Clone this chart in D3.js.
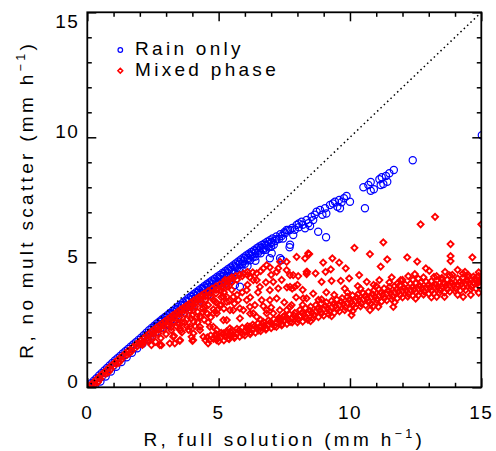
<!DOCTYPE html>
<html><head><meta charset="utf-8">
<script src="https://cdn.jsdelivr.net/npm/d3@7"></script>
<style>
html,body{margin:0;padding:0;background:#fff;}
svg{display:block;font-family:"Liberation Sans",Arial,Helvetica,sans-serif;}
</style></head><body>
<svg id="chart" width="496" height="451"></svg>
<script>
// Axis ranges and ticks
const xDomain = [0, 15];
const yDomain = [0, 15];
const majorTicks = [0, 5, 10, 15];
const minorTicks = [1, 2, 3, 4, 6, 7, 8, 9, 11, 12, 13, 14];
const xTickLabels = ["0", "5", "10", "15"];
const yTickLabels = ["0", "5", "10", "15"];
const xTitle = "R, full solution (mm h";
const yTitle = "R, no mult scatter (mm h";
const unitExponent = "\u22121";
const seriesNames = ["Rain only", "Mixed phase"];

// Rain-only retrievals: [full solution, no multiple scattering]
const rainOnly = [
[0.05,0.06],[0.15,0.16],[0.25,0.26],[0.35,0.36],[0.45,0.47],[0.55,0.57],[0.65,0.67],[0.75,0.77],[0.85,0.87],[0.95,0.97],
[1.05,1.07],[1.15,1.16],[1.25,1.25],[1.35,1.35],[1.45,1.44],[1.55,1.53],[1.65,1.62],[1.75,1.71],[1.85,1.8],[1.95,1.89],
[2.05,1.98],[2.15,2.08],[2.25,2.18],[2.35,2.28],[2.45,2.37],[2.55,2.46],[2.65,2.55],[2.75,2.63],[2.85,2.72],[2.95,2.8],
[3.05,2.88],[3.15,2.97],[3.25,3.05],[3.35,3.13],[3.45,3.22],[3.55,3.3],[3.65,3.39],[3.75,3.47],[3.85,3.56],[3.95,3.64],
[4.05,3.72],[4.15,3.8],[4.25,3.88],[4.35,3.96],[4.45,4.04],[4.55,4.12],[4.65,4.19],[4.75,4.27],[4.85,4.34],[4.95,4.42],
[5.05,4.49],[5.15,4.57],[5.25,4.64],[5.35,4.72],[5.45,4.79],[5.55,4.87],[5.65,4.95],[5.75,5.03],[5.85,5.11],[5.95,5.19],
[6.05,5.27],[6.15,5.34],[6.25,5.41],[6.35,5.48],[6.45,5.56],[6.55,5.63],[6.65,5.69],[6.75,5.75],[6.85,5.82],[6.95,5.88],
[7.05,5.95],[7.2,6.03],[7.35,6.12],[7.5,6.2],[7.65,6.29],[7.8,6.37],
[0.1,-0.04],[0.25,0.11],[0.4,0.27],[0.55,0.42],[0.7,0.57],[0.85,0.72],[1.0,0.87],[1.15,1.01],[1.3,1.15],[1.45,1.29],
[1.6,1.43],[1.75,1.56],[1.9,1.7],[2.05,1.83],[2.2,1.98],[2.35,2.13],[2.5,2.27],[2.65,2.4],[2.8,2.52],[2.95,2.65],
[3.1,2.77],[3.25,2.9],[3.4,3.03],[3.55,3.15],[3.7,3.28],[3.85,3.41],[4.0,3.53],[4.15,3.65],[4.3,3.77],[4.45,3.89],
[4.6,4.0],[4.75,4.12],[4.9,4.23],[5.05,4.34],[5.2,4.45],[5.35,4.56],[5.5,4.68],[5.65,4.8],[5.8,4.92],[5.95,5.04],
[6.1,5.16],[6.25,5.26],[6.4,5.37],[6.55,5.47],[6.7,5.56],[6.85,5.66],[7.0,5.76],[7.15,5.85],[7.3,5.93],
[0.3,0.02],[0.5,0.23],[0.7,0.43],[0.9,0.63],[1.1,0.82],[1.3,1.01],[1.5,1.2],[1.7,1.38],[1.9,1.56],[2.1,1.74],
[2.3,1.92],
[2.6,2.44],[2.8,2.61],[3.0,2.77],[3.2,2.93],[3.4,3.1],[3.6,3.27],[3.8,3.44],[4.0,3.61],[4.2,3.77],[4.4,3.93],
[4.6,4.08],[4.8,4.23],[5.0,4.38],[5.2,4.52],[5.4,4.67],[5.6,4.83],[5.8,4.99],[6.0,5.16],[6.2,5.3],[6.4,5.44],
[6.6,5.57],[6.8,5.69],[7.0,5.81],[7.2,5.92],[7.4,6.05],
[4.1,3.54],[4.3,3.7],[4.5,3.86],[4.7,4.01],[4.9,4.15],[5.1,4.29],[5.3,4.43],[5.5,4.6],[5.7,4.77],[5.9,4.93],
[6.1,5.08],[6.3,5.2],[6.5,5.37],[6.7,5.49],[6.9,5.6],
[2.4,2.04],[2.6,2.2],[2.8,2.37],[3.0,2.54],[3.2,2.71],[3.4,2.88],[3.6,3.04],[3.8,3.21],[4.0,3.38],[4.2,3.54],
[4.4,3.7],[4.6,3.86],[4.8,4.01],[5.0,4.15],[5.2,4.3],[5.4,4.45],[5.6,4.6],[5.8,4.77],[6.0,4.94],[6.2,5.08],
[6.4,5.23],[6.6,5.36],[6.8,5.5],[7.0,5.62],
[3.1,2.48],[3.4,2.73],[3.7,2.98],[4.0,3.23],[4.3,3.47],[4.6,3.7],[4.9,3.93],[5.2,4.15],[5.5,4.38],[5.8,4.62],
[6.1,4.85],[6.4,5.06],
[7.1,5.7],[7.45,5.95],[7.9,6.3],[8.05,6.4],[7.53,6.16],[7.72,6.29],[7.84,6.09],[7.97,6.49],[8.16,6.62],[8.29,6.36],
[8.35,6.69],[8.48,6.45],[8.54,6.82],[8.6,6.69],[8.73,7.02],[8.86,7.09],[9.05,7.16],[9.24,7.29],[9.43,7.42],[9.59,7.49],
[9.62,7.16],[9.77,7.56],[9.87,7.65],[10.0,7.42],[9.35,7.35],[9.52,7.22],[9.68,7.4],[9.1,6.95],[8.95,6.9],[8.66,6.9],
[8.42,6.56],[8.2,6.5],[8.05,6.55],
[10.51,8.0],[10.7,8.09],[10.79,8.21],[10.79,7.86],[10.91,7.92],[11.12,8.32],[11.17,8.09],[11.21,8.4],[11.27,8.13],[11.37,8.45],
[11.42,8.22],[11.5,8.56],[11.67,8.69],[12.39,9.08],[15.02,10.08],
[10.57,7.16],[8.79,6.22],[9.09,6.0],[7.72,5.7],[7.34,5.16],[7.02,5.36],[6.95,5.16],[7.4,5.09],[5.81,4.02],[5.62,4.09],
[7.59,6.29],[7.7,5.6]
];

// Mixed-phase retrievals: [full solution, no multiple scattering]
const mixedPhase = [
[0.05,0.03],[0.15,0.12],[0.25,0.22],[0.35,0.32],[0.45,0.42],[0.55,0.52],[0.65,0.61],[0.75,0.71],[0.85,0.81],[0.95,0.9],
[1.05,1.0],[1.15,1.09],[1.25,1.18],[1.35,1.27],[1.45,1.36],[1.55,1.45],[1.65,1.53],[1.75,1.62],[1.85,1.71],[1.95,1.8],
[2.05,1.88],[2.15,1.97],[2.25,2.06],[2.35,2.15],[2.45,2.24],[2.55,2.32],[2.65,2.4],[2.75,2.48],[2.85,2.56],[2.95,2.64],
[3.05,2.72],[3.15,2.8],[3.25,2.88],[3.35,2.95],[3.45,3.03],[3.55,3.11],[3.65,3.18],[3.75,3.25],[3.85,3.32],[3.95,3.39],
[4.05,3.47],[4.15,3.54],[4.25,3.61],[4.35,3.68],[4.45,3.75],[4.6,3.85],[4.75,3.95],[4.9,4.04],[5.05,4.12],[5.2,4.2],
[5.35,4.28],
[0.1,-0.05],[0.3,0.15],[0.5,0.34],[0.7,0.54],[0.9,0.73],[1.1,0.93],[1.3,1.11],[1.5,1.29],[1.7,1.46],[1.9,1.64],
[2.1,1.7],[2.3,1.86],[2.5,2.01],[2.7,2.16],[2.9,2.32],[3.1,2.48],[3.3,2.63],[3.5,2.79],[3.7,2.94],[3.9,3.08],
[4.1,3.22],[4.3,3.37],[4.5,3.5],[4.7,3.63],[4.9,3.76],[5.1,3.87],
[0.4,0.2],[0.8,0.6],[1.2,0.98],[1.6,1.36],[2.0,1.73],
[2.1,1.78],[2.3,1.96],[2.5,2.14],[2.7,2.3],[2.9,2.46],[3.1,2.62],[3.3,2.77],[3.5,2.93],[3.7,3.08],[3.9,3.22],
[4.1,3.36],[4.3,3.5],[4.5,3.64],[4.7,3.77],[4.9,3.9],[5.1,4.0],[5.3,4.1],[5.5,4.2],
[5.5,4.4],[5.65,4.45],[5.8,4.5],[5.95,4.55],[6.1,4.62],[5.45,4.33],[5.25,4.3],
[2.6,1.82],[2.8,1.97],[3.0,2.13],[3.2,2.28],[3.4,2.44],[3.6,2.59],[3.8,2.73],[4.0,2.88],[4.2,3.02],[4.4,3.16],
[4.6,3.29],[4.85,3.45],[5.1,3.6],
[3.3,2.06],[3.55,2.27],[3.8,2.43],[4.05,2.62],[4.3,2.82],[4.55,2.97],[4.8,3.12],[5.1,3.3],[5.4,3.45],
[3.2,2.4],[3.45,2.55],[3.7,2.6],[3.95,2.75],[4.2,2.6],[4.45,2.7],[4.7,2.8],[4.95,3.1],[5.2,3.15],[3.6,2.2],
[3.85,2.3],[4.1,2.45],[4.6,2.6],[4.4,3.0],[4.9,3.4],[5.2,3.8],[5.5,3.9],[5.7,3.7],[5.9,3.8],[6.2,3.6],
[6.1,4.1],[5.6,3.35],[6.5,3.8],[6.8,4.2],[7.0,4.5],[7.4,4.3],[7.6,4.0],[8.0,4.1],[8.2,3.9],[6.7,3.25],
[7.0,3.2],[6.2,2.95],[6.6,2.7],[7.5,3.4],[7.95,3.6],
[3.53,1.89],[3.27,2.02],[3.97,2.02],[4.29,2.29],[4.04,2.16],[4.42,2.02],[3.91,2.42],[4.29,2.42],[4.8,2.42],[5.18,2.16],
[3.53,2.36],[4.16,2.82],[4.55,2.96],[4.93,2.96],[5.31,2.69],[5.56,3.09],[6.19,2.42],[6.57,2.42],[6.83,2.96],[7.33,2.69],
[7.59,3.09],[7.72,3.22],[4.8,3.49],[5.31,3.62],[5.31,4.02],[5.75,3.49],[5.94,3.09],[6.32,2.96],[6.64,3.49],[6.95,3.49],
[6.07,3.89],[6.32,4.29],[6.57,4.02],[7.27,3.96],[7.72,4.02],[7.33,3.09],[7.72,4.49],[7.27,4.76],[6.83,4.89],[7.59,5.02],
[7.97,5.22],[8.41,5.36],[7.34,5.02],[6.95,4.8],[6.7,4.76],[8.35,4.62],[7.84,4.49],[8.03,4.45],[7.59,4.69],[7.21,4.62],
[6.45,4.56],[6.19,4.4],[6.45,4.29],[7.08,4.22],[7.8,3.95],[7.9,4.02],[6.95,3.89],[7.21,3.56],[6.07,3.49],[6.38,3.29],
[7.78,3.29],[8.35,3.56],[5.56,3.62],[5.18,3.62],[5.31,3.42],[5.05,3.29],[5.81,3.16],[6.19,3.22],[6.83,3.09],[7.08,2.96],
[7.46,2.82],[5.43,3.09],[4.8,2.96],[4.48,3.22],[4.29,2.82],[4.04,3.09],[5.18,2.69],[5.81,2.76],[6.45,2.82],[5.43,2.36],
[4.93,2.29],[4.67,2.42],[5.37,1.96],[2.44,1.69],[2.82,1.69],[3.14,1.76],[3.33,1.76],[3.52,1.86],[4.0,1.86],[2.76,1.69],
[4.6,1.76],[4.92,1.89],[5.3,2.16],[4.03,1.89],[5.7,4.3],[5.9,4.45],[6.1,4.5],[5.5,4.2],[6.3,4.6],[6.6,4.65],
[4.5,1.88],[4.65,1.9],[4.8,1.94],[4.95,1.97],[5.1,2.0],[5.25,2.04],[5.4,2.08],[5.55,2.11],[5.7,2.15],[5.85,2.2],
[6.0,2.24],[6.15,2.28],[6.3,2.32],[6.45,2.37],[6.6,2.41],[6.75,2.45],[6.9,2.49],[7.05,2.53],[7.2,2.58],[7.35,2.62],
[7.5,2.67],[7.65,2.71],[7.8,2.76],[7.95,2.8],[8.1,2.85],[8.25,2.9],[8.4,2.95],[8.55,2.99],[8.7,3.04],[8.85,3.08],
[9.0,3.12],[9.15,3.16],[9.3,3.2],[9.45,3.25],[9.6,3.29],[9.75,3.33],[9.9,3.37],[10.05,3.41],[10.2,3.45],[10.35,3.48],
[10.5,3.52],[10.65,3.56],[10.8,3.59],[10.95,3.63],[11.1,3.66],[11.25,3.7],[11.4,3.74],[11.55,3.77],[11.7,3.8],[11.85,3.83],
[12.0,3.86],[12.15,3.88],[12.3,3.9],[12.45,3.92],[12.6,3.94],[12.75,3.96],[12.9,3.98],[13.05,4.0],[13.2,4.01],[13.35,4.03],
[13.5,4.04],[13.65,4.06],[13.8,4.08],[13.95,4.1],[14.1,4.11],[14.25,4.13],[14.4,4.15],[14.55,4.17],[14.7,4.19],[14.85,4.21],
[15.0,4.24],
[4.57,2.0],[4.87,2.05],[5.17,2.11],[5.47,2.19],[5.77,2.27],[6.07,2.36],[6.37,2.45],[6.67,2.53],[6.97,2.61],[7.27,2.7],
[7.57,2.79],[7.87,2.88],[8.17,2.98],[8.47,3.07],[8.77,3.16],[9.07,3.25],[9.37,3.34],[9.67,3.42],[9.97,3.5],[10.27,3.58],
[10.57,3.65],[10.87,3.72],[11.17,3.79],[11.47,3.86],[11.77,3.92],[12.07,3.97],[12.37,4.01],[12.67,4.05],[12.97,4.08],[13.27,4.11],
[13.57,4.14],[13.87,4.18],[14.17,4.21],[14.47,4.25],[14.77,4.29],
[5.62,2.03],[5.92,2.12],[6.22,2.2],[6.52,2.28],[6.82,2.36],[7.12,2.45],[7.42,2.53],[7.72,2.62],[8.02,2.72],[8.32,2.8],
[8.62,2.88],[8.92,2.96],[9.22,3.05],[9.52,3.13],[9.82,3.21],[10.12,3.29],[10.42,3.36],[10.72,3.43],[11.02,3.5],[11.32,3.58],
[11.62,3.64],[11.92,3.7],[12.22,3.74],[12.52,3.79],[12.82,3.83],[13.12,3.87],[13.42,3.9],[13.72,3.93],[14.02,3.96],[14.32,3.99],
[14.62,4.03],[14.92,4.06],
[4.7,2.08],[4.9,2.14],[5.1,2.18],[5.3,2.24],[5.5,2.29],[5.7,2.34],[5.9,2.39],[6.1,2.45],[6.3,2.51],[6.5,2.56],
[6.7,2.62],[6.9,2.68],[7.1,2.73],[7.3,2.79],[7.5,2.86],[7.7,2.92],[7.9,2.98],[8.1,3.1],[8.3,3.17],[8.5,3.23],
[8.7,3.29],[8.9,3.35],[9.1,3.4],[9.3,3.46],[9.5,3.51],[9.7,3.57],[9.9,3.62],[10.1,3.68],[10.3,3.72],[10.5,3.77],
[10.7,3.82],[10.9,3.87],[11.1,3.92],[11.3,3.96],[11.5,4.01],[11.7,4.05],[11.9,4.09],[12.1,4.12],[12.3,4.15],[12.5,4.18],
[12.7,4.2],[12.9,4.23],[13.1,4.25],[13.3,4.28],[13.5,4.3],[13.7,4.31],[13.9,4.34],[14.1,4.36],[14.3,4.39],[14.5,4.41],
[14.7,4.43],[14.9,4.46],
[5.0,1.84],[5.2,1.88],[5.4,1.93],[5.6,1.98],[5.8,2.03],[6.0,2.08],[6.2,2.13],[6.4,2.19],[6.6,2.25],[6.8,2.31],
[7.0,2.37],[7.2,2.42],[7.4,2.48],[7.6,2.54],[7.8,2.6],[8.0,2.6],[8.2,2.63],[8.4,2.7],[8.6,2.76],[8.8,2.81],
[9.0,2.87],[9.2,2.92],[9.4,2.98],[9.6,3.04],[9.8,3.09],[10.0,3.14],[10.2,3.2],[10.4,3.24],[10.6,3.28],[10.8,3.34],
[11.0,3.38],[11.2,3.43],[11.4,3.48],[11.6,3.52],[11.8,3.56],[12.0,3.6],[12.2,3.63],[12.4,3.66],[12.6,3.68],[12.8,3.71],
[13.0,3.74],[13.2,3.76],[13.4,3.78],[13.6,3.8],[13.8,3.83],[14.0,3.85],[14.2,3.87],[14.4,3.89],[14.6,3.92],[14.8,3.95],
[8.2,3.3],[8.8,3.5],[9.4,3.7],[9.9,3.8],[10.4,3.95],[11.0,4.05],[11.5,4.2],[12.0,4.3],[12.6,4.35],[13.2,4.42],
[13.8,4.48],[14.3,4.55],[14.9,4.6],
[8.5,2.65],[9.3,2.85],[10.1,3.05],[10.9,3.25],[11.7,3.4],[12.5,3.55],[13.3,3.62],[14.1,3.7],[14.9,3.78],
[13.24,6.82],[12.69,6.52],[15.0,6.52],[11.27,5.8],[10.17,5.58],[13.83,5.73],[8.45,5.33],[8.29,5.16],[10.76,5.33],[13.83,5.25],
[13.83,5.05],[14.66,5.2],[12.18,5.2],[11.42,5.12],[12.56,5.03],[9.33,5.16],[8.98,4.99],[9.59,4.99],[11.17,4.83],[9.84,4.76],
[8.37,4.62],[8.69,4.56],[9.07,4.62],[9.27,4.72],[10.35,4.49],[9.97,4.36],[13.62,4.62],[14.38,4.62],[12.89,4.76],[13.02,4.66],
[12.47,4.53],[12.22,4.45],[11.93,4.29],[11.59,4.4],[11.12,4.29],[10.64,4.22],[9.65,4.26],[9.3,4.26],[8.92,4.22],[8.35,4.53],
[8.22,3.56],[8.92,3.52],[10.06,2.89],[10.76,3.09],[11.65,3.22],[11.08,3.22],[14.31,3.62],[14.6,3.7],[13.1,3.6],[13.6,3.62],
[14.75,4.35],[14.85,4.42],[14.95,4.3],[14.9,4.2],[14.8,4.28],[13.3,4.45],[13.9,4.5],[14.1,4.7],[14.5,4.5],[12.8,4.4],
[13.5,4.38],[10.9,4.1],[10.3,4.05],[9.1,3.8],[8.6,3.75],[9.8,3.95],[12.4,4.3],[11.8,4.15]
];

const rainColor = "#0000ff";
const mixedColor = "#ff0000";

const svg = d3.select("#chart");
const W = 496, H = 451;
const plot = {left: 87.3, right: 481.3, top: 12.3, bottom: 387.3};

svg.append("rect").attr("width", W).attr("height", H).attr("fill", "#fff");

const x = d3.scaleLinear().domain(xDomain).range([plot.left, plot.right]);
const y = d3.scaleLinear().domain(yDomain).range([plot.bottom, plot.top]);

svg.append("defs").append("clipPath").attr("id", "plotClip")
  .append("rect")
  .attr("x", plot.left).attr("y", plot.top)
  .attr("width", plot.right - plot.left).attr("height", plot.bottom - plot.top);

const marks = svg.append("g").attr("clip-path", "url(#plotClip)");

// Rain-only: open circles
marks.append("g").selectAll("circle").data(rainOnly).join("circle")
  .attr("cx", d => x(d[0])).attr("cy", d => y(d[1]))
  .attr("r", 3.6).attr("fill", "none")
  .attr("stroke", rainColor).attr("stroke-width", 1.2);

// Mixed phase: open diamonds
const diamond = s => `M0,${-s}L${s},0L0,${s}L${-s},0Z`;
marks.append("g").selectAll("path").data(mixedPhase).join("path")
  .attr("transform", d => `translate(${x(d[0])},${y(d[1])})`)
  .attr("d", diamond(3.0)).attr("fill", "none")
  .attr("stroke", mixedColor).attr("stroke-width", 1.9);

// 1:1 reference line
marks.append("line")
  .attr("x1", x(xDomain[0])).attr("y1", y(yDomain[0]))
  .attr("x2", x(xDomain[1])).attr("y2", y(yDomain[1]))
  .attr("stroke", "#000").attr("stroke-width", 1.5)
  .attr("stroke-dasharray", "1.5,3.1");

// Axes: inward ticks on all four sides
function ticks(gen, pos, values, size) {
  const g = svg.append("g").attr("transform", pos)
    .call(gen.tickValues(values).tickSize(-size).tickSizeOuter(0).tickFormat(""));
  g.select(".domain").remove();
  g.selectAll(".tick line").attr("stroke", "#000").attr("stroke-width", 1.5);
}
[[minorTicks, 4.5], [majorTicks, 9]].forEach(([vals, len]) => {
  ticks(d3.axisBottom(x), `translate(0,${plot.bottom})`, vals, len);
  ticks(d3.axisTop(x), `translate(0,${plot.top})`, vals, len);
  ticks(d3.axisLeft(y), `translate(${plot.left},0)`, vals, len);
  ticks(d3.axisRight(y), `translate(${plot.right},0)`, vals, len);
});
svg.append("rect")
  .attr("x", plot.left).attr("y", plot.top)
  .attr("width", plot.right - plot.left).attr("height", plot.bottom - plot.top)
  .attr("fill", "none").attr("stroke", "#000").attr("stroke-width", 1.8);

const fontSize = 19, spacing = 3.3;

// Tick labels
svg.append("g").selectAll("text").data(majorTicks).join("text")
  .attr("x", d => x(d)).attr("y", plot.bottom + 32)
  .attr("text-anchor", "middle").attr("font-size", fontSize)
  .attr("letter-spacing", 1.5)
  .text((d, i) => xTickLabels[i]);
svg.append("g").selectAll("text").data(majorTicks).join("text")
  .attr("x", plot.left - 8).attr("y", d => Math.max(y(d) + 1, 28))
  .attr("text-anchor", "end").attr("font-size", fontSize)
  .attr("letter-spacing", 1.5)
  .text((d, i) => yTickLabels[i]);

// Axis titles with superscript unit exponent
function title(g, label) {
  const t = g.append("text").attr("text-anchor", "middle")
    .attr("font-size", fontSize).attr("letter-spacing", spacing);
  t.append("tspan").text(label);
  t.append("tspan").attr("font-size", 12.5).attr("dy", -8.5).text(unitExponent);
  t.append("tspan").attr("dy", 8.5).text(")");
}
title(svg.append("g").attr("transform", `translate(${(plot.left + plot.right) / 2},446)`), xTitle);
title(svg.append("g").attr("transform", `translate(33,${(plot.top + plot.bottom) / 2}) rotate(-90)`), yTitle);

// Legend
const legend = svg.append("g");
legend.append("circle").attr("cx", 120.3).attr("cy", 50).attr("r", 2.3)
  .attr("fill", "none").attr("stroke", rainColor).attr("stroke-width", 1.2);
legend.append("path").attr("transform", "translate(120.3,70.7)").attr("d", diamond(2.4))
  .attr("fill", "none").attr("stroke", mixedColor).attr("stroke-width", 1.5);
legend.append("text").attr("x", 135).attr("y", 55).attr("font-size", fontSize)
  .attr("letter-spacing", spacing).text(seriesNames[0]);
legend.append("text").attr("x", 135).attr("y", 76).attr("font-size", fontSize)
  .attr("letter-spacing", spacing).text(seriesNames[1]);
</script>
</body></html>
